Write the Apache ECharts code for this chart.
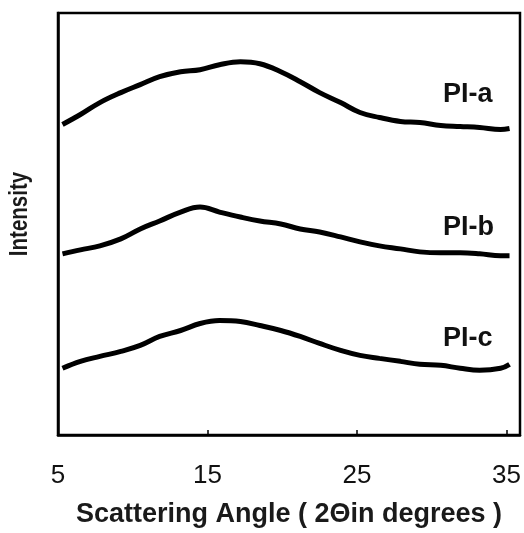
<!DOCTYPE html>
<html>
<head>
<meta charset="utf-8">
<script src="https://cdn.jsdelivr.net/npm/echarts@6/dist/echarts.min.js"></script>
<style>
  html, body { margin: 0; padding: 0; background: #fff; }
  #chart { width: 524px; height: 533px; }
</style>
</head>
<body>
<div id="chart"></div>
<script>
// scattering angle (2 theta, degrees)
var angles = [5.3, 6.5, 7.8, 9.2, 10.5, 11.8, 13.2, 14.5, 15.8, 17.2, 18.5, 19.9,
              21.2, 22.5, 23.9, 25.2, 26.5, 27.9, 29.2, 30.6, 31.9, 33.2, 34.6, 35.2];

// intensity, arbitrary units (curves offset vertically)
var piA = [312, 322, 334, 344, 352, 360, 365, 367, 372, 375, 373, 365,
           355, 344, 334, 324, 319, 315, 314, 311, 310, 309, 307, 308];
var piB = [182, 186, 190, 197, 207, 215, 224, 229, 224, 219, 215, 212,
           207, 204, 199, 194, 190, 187, 184, 183, 183, 182, 180, 180];
var piC = [67, 74, 79, 84, 90, 99, 105, 112, 115, 114, 110, 105,
           99, 92, 85, 80, 77, 74, 71, 70, 67, 65, 67, 71];

var seriesNames = ['PI-a', 'PI-b', 'PI-c'];
var xTicks = [5, 15, 25, 35];

function pairs(ys) {
    var out = [];
    for (var i = 0; i < angles.length; i++) {
        out.push([angles[i], ys[i]]);
    }
    return out;
}

var chart = echarts.init(document.getElementById('chart'));

function lineSeries(name, ys) {
    return {
        name: name,
        type: 'line',
        data: pairs(ys),
        smooth: 0.4,
        showSymbol: false,
        lineStyle: { color: '#000', width: 5 },
        z: 3
    };
}

var fontFam = '"Liberation Sans", Arial, sans-serif';
var labelFont = 'bold 27px ' + fontFam;

function curveLabel(text, y) {
    return {
        type: 'text', x: 443, y: y,
        style: { text: text, font: labelFont, fill: '#111', verticalAlign: 'middle' }
    };
}

option = {
    backgroundColor: '#FFFFFF',
    animation: false,
    grid: {
        left: 58,
        right: 4,
        top: 13,
        bottom: 96,
        show: true,
        borderColor: '#000',
        borderWidth: 2.5
    },
    xAxis: {
        type: 'value',
        min: 5,
        max: 35.9,
        interval: 10,
        name: 'Scattering Angle ( 2\u0398in degrees )',
        nameLocation: 'middle',
        nameGap: 66,
        nameTextStyle: {
            color: '#1a1a1a',
            fontSize: 27,
            fontWeight: 'bold',
            fontFamily: fontFam
        },
        splitLine: { show: false },
        axisLine: { show: true, lineStyle: { color: '#000', width: 2.5 } },
        axisTick: { show: true, inside: true, length: 5, lineStyle: { color: '#000', width: 1.5 } },
        axisLabel: {
            showMaxLabel: false,
            margin: 28,
            color: '#111',
            fontSize: 26,
            fontFamily: fontFam,
            formatter: function (v) {
                return xTicks.indexOf(v) >= 0 ? String(v) : '';
            }
        }
    },
    yAxis: {
        type: 'value',
        min: 0,
        max: 424,
        splitLine: { show: false },
        axisLine: { show: true, lineStyle: { color: '#000', width: 2.5 } },
        axisTick: { show: false },
        axisLabel: { show: false }
    },
    graphic: [
        {
            // rotated y-axis title, slightly condensed like the original
            type: 'text', x: 20, y: 214, rotation: Math.PI / 2, scaleX: 0.82,
            style: {
                text: 'Intensity', font: 'bold 25px ' + fontFam, fill: '#1a1a1a',
                align: 'center', verticalAlign: 'middle'
            }
        },
        curveLabel(seriesNames[0], 95),
        curveLabel(seriesNames[1], 228),
        curveLabel(seriesNames[2], 339)
    ],
    series: [
        lineSeries(seriesNames[0], piA),
        lineSeries(seriesNames[1], piB),
        lineSeries(seriesNames[2], piC)
    ]
};

chart.setOption(option);
window.addEventListener('resize', function () {
    chart.resize();
});
</script>
</body>
</html>
